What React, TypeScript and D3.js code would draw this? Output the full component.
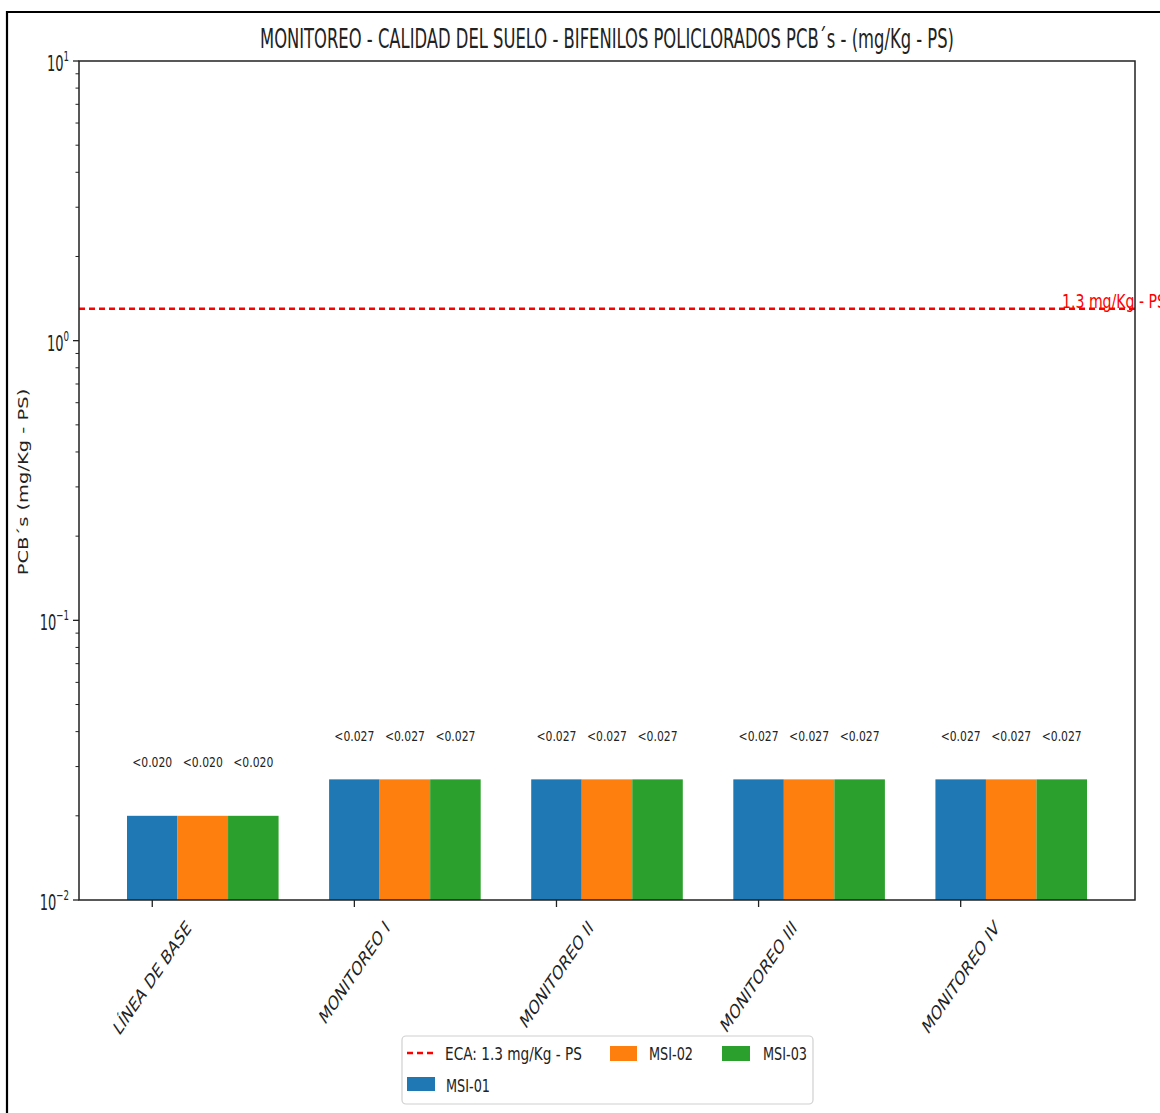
import React from "react";
import * as d3 from "d3";

const categories = ["LÍNEA DE BASE", "MONITOREO I", "MONITOREO II", "MONITOREO III", "MONITOREO IV"];
const seriesNames = ["MSI-01", "MSI-02", "MSI-03"];
const msi01 = [0.02, 0.027, 0.027, 0.027, 0.027];
const msi02 = [0.02, 0.027, 0.027, 0.027, 0.027];
const msi03 = [0.02, 0.027, 0.027, 0.027, 0.027];
const labels01 = ["<0.020", "<0.027", "<0.027", "<0.027", "<0.027"];
const labels02 = ["<0.020", "<0.027", "<0.027", "<0.027", "<0.027"];
const labels03 = ["<0.020", "<0.027", "<0.027", "<0.027", "<0.027"];
const colors = ["#1f77b4", "#ff7f0e", "#2ca02c"];
const ecaValue = 1.3;
const ecaLabel = "ECA: 1.3 mg/Kg - PS";
const ecaText = "1.3 mg/Kg - PS";
const title = "MONITOREO - CALIDAD DEL SUELO - BIFENILOS POLICLORADOS PCB´s - (mg/Kg - PS)";
const yLabel = "PCB´s (mg/Kg - PS)";
const yMajor = [0.01, 0.1, 1, 10];
const yExp = ["−2", "−1", "0", "1"];

const W = 1160;
const H = 1113;
const M = { left: 79, right: 1135, top: 61, bottom: 900 };
const SX = 0.68;
const FONT = "DejaVu Sans";

function measure(text: string, size: number) {
  const c = document.createElement("canvas");
  const ctx = c.getContext("2d")!;
  ctx.font = `${size}px '${FONT}'`;
  return ctx.measureText(text).width;
}

export default function App() {
  const barW = 0.25;
  const x = d3.scaleLinear().domain([-0.3625, 4.8625]).range([M.left, M.right]);
  const y = d3.scaleLog().domain([0.01, 10]).range([M.bottom, M.top]);
  const series = [msi01, msi02, msi03];
  const seriesLabels = [labels01, labels02, labels03];

  const minor: number[] = [];
  [0.01, 0.1, 1].forEach((b) => {
    for (let k = 2; k <= 9; k++) minor.push(b * k);
  });

  const xf = 20;
  return (
    <svg
      width={W}
      height={H}
      style={{ position: "absolute", left: 0, top: 0, background: "#fff" }}
      fontFamily={FONT}
    >
      <rect x={0} y={0} width={W} height={H} fill="#fff" />
      <path d={`M7,${H + 5} V12 H${W + 5}`} fill="none" stroke="#000" strokeWidth={2.2} />

      {/* bars */}
      {series.map((vals, si) =>
        vals.map((v, ci) => {
          const x0 = x(ci - barW / 2 + si * barW);
          const x1 = x(ci + barW / 2 + si * barW);
          return (
            <rect
              key={`b${si}-${ci}`}
              x={x0}
              y={y(v)}
              width={x1 - x0}
              height={M.bottom - y(v)}
              fill={colors[si]}
            />
          );
        })
      )}
      {series.map((vals, si) =>
        vals.map((v, ci) => (
          <text
            key={`l${si}-${ci}`}
            x={x(ci + si * barW)}
            y={y(v + 0.01)}
            textAnchor="middle"
            fontSize={13.7}
            textLength={40}
            lengthAdjust="spacingAndGlyphs"
            fill="#222"
          >
            {seriesLabels[si][ci]}
          </text>
        ))
      )}

      {/* ECA line */}
      <line
        x1={M.left}
        x2={M.right}
        y1={y(ecaValue)}
        y2={y(ecaValue)}
        stroke="#ff0000"
        strokeWidth={2.5}
        strokeDasharray="6,4"
      />
      <text x={1062} y={y(ecaValue) - 1} fontSize={19} fill="#ff0000" textLength={104} lengthAdjust="spacingAndGlyphs">
        {ecaText}
      </text>

      {/* spines */}
      <rect
        x={M.left}
        y={M.top}
        width={M.right - M.left}
        height={M.bottom - M.top}
        fill="none"
        stroke="#222"
        strokeWidth={1.5}
      />

      {/* y ticks */}
      {yMajor.map((v, i) => (
        <g key={`ym${i}`}>
          <line x1={M.left - 6} x2={M.left} y1={y(v)} y2={y(v)} stroke="#222" strokeWidth={1.3} />
          <text transform={`translate(69,${y(v) + 10}) scale(0.62,1)`} textAnchor="end" fontSize={21} fill="#222">
            10
            <tspan dy={-10} fontSize={14}>
              {yExp[i]}
            </tspan>
          </text>
        </g>
      ))}
      {minor.map((v, i) => (
        <line key={`yn${i}`} x1={M.left - 3.5} x2={M.left} y1={y(v)} y2={y(v)} stroke="#222" strokeWidth={1} />
      ))}

      {/* x ticks */}
      {categories.map((c, i) => {
        const L = measure(c, xf);
        const h = xf * 1.16;
        const cy = 916 + (L + h) / (2 * Math.SQRT2);
        return (
          <g key={`xt${i}`}>
            <line x1={x(i)} x2={x(i)} y1={M.bottom} y2={M.bottom + 7} stroke="#222" strokeWidth={1.3} />
            <text
              transform={`translate(${x(i)},${cy}) scale(${SX},1) rotate(-45)`}
              textAnchor="middle"
              dominantBaseline="central"
              fontSize={xf}
              fill="#222"
            >
              {c}
            </text>
          </g>
        );
      })}

      {/* y label */}
      <text
        transform={`translate(24,482) scale(${SX},1) rotate(-90)`}
        textAnchor="middle"
        dominantBaseline="central"
        fontSize={19.5}
        fill="#222"
      >
        {yLabel}
      </text>

      {/* title */}
      <text x={607} y={48} textAnchor="middle" fontSize={27} textLength={694} lengthAdjust="spacingAndGlyphs" fill="#222">
        {title}
      </text>

      {/* legend */}
      <rect x={402} y={1036} width={411} height={68} rx={4} fill="#fff" stroke="#d0d0d0" strokeWidth={1.2} />
      <line x1={407} x2={435} y1={1053} y2={1053} stroke="#ff0000" strokeWidth={2.5} strokeDasharray="6,4" />
      <text x={445} y={1060} fontSize={18} textLength={137} lengthAdjust="spacingAndGlyphs" fill="#222">
        {ecaLabel}
      </text>
      <rect x={610} y={1046} width={27} height={15} fill={colors[1]} />
      <text x={649} y={1060} fontSize={18} textLength={44} lengthAdjust="spacingAndGlyphs" fill="#222">
        {seriesNames[1]}
      </text>
      <rect x={722} y={1046} width={28} height={15} fill={colors[2]} />
      <text x={763} y={1060} fontSize={18} textLength={44} lengthAdjust="spacingAndGlyphs" fill="#222">
        {seriesNames[2]}
      </text>
      <rect x={407} y={1077} width={28} height={14} fill={colors[0]} />
      <text x={446} y={1092} fontSize={18} textLength={44} lengthAdjust="spacingAndGlyphs" fill="#222">
        {seriesNames[0]}
      </text>
    </svg>
  );
}
